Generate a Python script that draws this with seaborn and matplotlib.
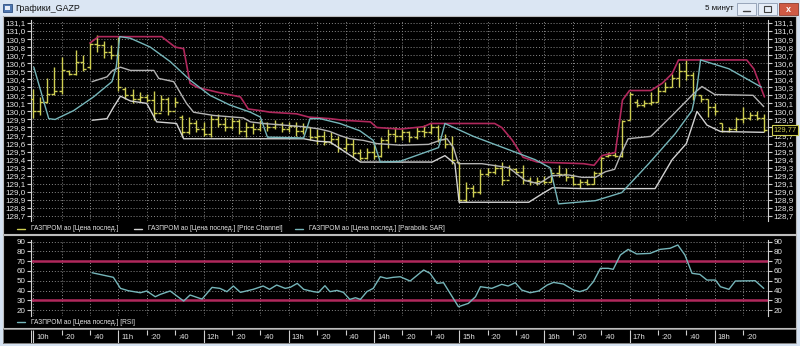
import matplotlib
matplotlib.use("Agg")
import matplotlib.pyplot as plt
import seaborn as sns
from matplotlib.patches import Rectangle
from matplotlib.lines import Line2D

sns.set_theme(style="dark")
FONT = ["Liberation Sans", "DejaVu Sans"]
plt.rcParams["font.family"] = FONT

# ---------------- data (5-minute bars, 10:00 .. 18:35) ----------------
bar_high = [130.28,130.18,130.42,130.55,130.68,130.52,130.76,130.70,130.86,130.95,
            130.87,130.82,130.93,130.30,130.28,130.24,130.22,130.26,130.20,130.18,
            130.18,129.95,129.93,129.89,129.87,129.95,129.97,129.93,129.93,129.91,
            129.87,129.85,129.89,129.87,129.89,129.87,129.87,129.87,129.85,129.80,
            129.78,129.76,129.74,129.70,129.68,129.66,129.53,129.55,129.62,129.68,
            129.78,129.80,129.78,129.76,129.80,129.83,129.85,129.83,129.72,129.70,
            129.37,129.12,129.08,129.28,129.30,129.35,129.37,129.33,129.30,129.33,
            129.18,129.18,129.20,129.28,129.33,129.30,129.22,129.16,129.16,129.26,
            129.45,129.49,129.49,129.89,130.24,130.16,130.14,130.24,130.30,130.37,
            130.47,130.60,130.64,130.49,130.20,130.16,130.10,129.85,129.80,129.93,
            130.05,129.99,130.01,129.97]
bar_low = [129.92,129.95,130.10,130.20,130.22,130.45,130.45,130.50,130.53,130.74,
           130.67,130.65,130.26,130.16,130.10,130.12,130.12,129.89,130.01,129.95,
           130.05,129.68,129.72,129.74,129.70,129.68,129.80,129.76,129.78,129.72,
           129.68,129.72,129.76,129.76,129.78,129.74,129.74,129.70,129.72,129.64,
           129.60,129.58,129.60,129.49,129.51,129.43,129.39,129.41,129.41,129.43,
           129.55,129.62,129.64,129.62,129.66,129.68,129.72,129.62,129.55,129.35,
           128.87,128.87,128.93,128.97,129.20,129.22,129.08,129.20,129.22,129.10,
           129.08,129.08,129.10,129.12,129.18,129.14,129.08,129.05,129.08,129.10,
           129.18,129.43,129.43,129.43,129.89,130.05,130.05,130.08,130.12,130.24,
           130.30,130.30,130.39,130.14,130.12,129.93,129.95,129.74,129.74,129.76,
           129.85,129.89,129.89,129.74]
bar_open = [130.15,130.00,130.12,130.22,130.25,130.50,130.47,130.62,130.55,130.84,
            130.82,130.74,130.70,130.28,130.20,130.15,130.18,130.14,129.98,130.15,
            130.00,129.93,129.75,129.85,129.78,129.72,129.90,129.84,129.80,129.88,
            129.76,129.80,129.78,129.85,129.80,129.84,129.78,129.82,129.76,129.80,
            129.68,129.70,129.62,129.66,129.55,129.60,129.48,129.42,129.50,129.45,
            129.64,129.72,129.70,129.74,129.68,129.76,129.74,129.80,129.66,129.60,
            129.37,128.90,129.05,129.00,129.22,129.25,129.30,129.15,129.28,129.25,
            129.15,129.12,129.14,129.12,129.24,129.22,129.18,129.10,129.12,129.10,
            129.24,129.44,129.46,129.45,129.89,130.12,130.08,130.10,130.12,130.25,
            130.30,130.42,130.50,130.45,130.20,130.15,130.05,129.85,129.76,129.78,
            129.90,129.92,129.95,129.92]
bar_close = [130.00,130.12,130.22,130.25,130.52,130.47,130.62,130.53,130.84,130.82,
             130.74,130.70,130.30,130.20,130.15,130.18,130.14,129.98,130.15,130.00,
             130.12,129.75,129.85,129.78,129.72,129.90,129.84,129.80,129.88,129.76,
             129.80,129.78,129.85,129.80,129.84,129.78,129.82,129.76,129.80,129.68,
             129.70,129.62,129.66,129.55,129.60,129.48,129.42,129.50,129.45,129.64,
             129.72,129.70,129.74,129.68,129.76,129.74,129.80,129.66,129.60,129.40,
             128.90,129.05,129.00,129.22,129.25,129.30,129.15,129.28,129.25,129.15,
             129.12,129.14,129.12,129.24,129.22,129.18,129.10,129.12,129.10,129.24,
             129.42,129.46,129.45,129.88,130.22,130.08,130.10,130.12,130.25,130.30,
             130.42,130.50,130.45,130.20,130.15,130.05,130.00,129.76,129.78,129.90,
             129.92,129.95,129.92,129.77]

# price channel upper (crimson)
chan_up_x = [8.0, 9.2, 18.1, 20.0, 21.2, 22.1, 23.1, 25.9, 29.2, 30.3,
             32.0, 33.4, 37.1, 38.8, 41.8, 43.7, 47.5, 48.4, 51.7, 55.0,
             56.0, 65.0, 66.0, 67.5, 69.0, 71.0, 77.5, 79.0, 80.1, 82.0,
             83.0, 84.0, 87.0, 88.6, 90.0, 90.9, 100.5, 101.5, 102.4, 103.0]
chan_up_y = [130.85, 130.93, 130.93, 130.80, 130.78, 130.35, 130.30, 130.24, 130.18, 130.03,
             130.01, 129.99, 129.97, 129.93, 129.91, 129.89, 129.87, 129.80, 129.78, 129.81,
             129.85, 129.85, 129.80, 129.64, 129.43, 129.37, 129.35, 129.33, 129.45, 129.49,
             130.14, 130.26, 130.26, 130.35, 130.47, 130.64, 130.64, 130.53, 130.32, 130.18]
# parabolic SAR (cyan)
sar_x = [0.1, 2.2, 3.1, 5.7, 8.5, 11.1, 11.7, 12.2, 13.7, 16.5,
         19.3, 22.1, 24.9, 27.7, 30.6, 32.0, 33.0, 38.1, 39.0, 40.4,
         43.2, 46.0, 47.9, 48.9, 51.7, 57.1, 58.0, 62.0, 67.4, 70.7,
         72.8, 74.0, 79.2, 82.9, 86.7, 90.4, 92.8, 93.5, 94.0, 98.0, 102.6]
sar_y = [130.55, 129.91, 129.90, 130.01, 130.18, 130.37, 130.55, 130.93, 130.91, 130.80,
         130.62, 130.39, 130.20, 130.08, 129.99, 129.93, 129.68, 129.67, 129.91, 129.91,
         129.85, 129.76, 129.64, 129.37, 129.38, 129.55, 129.85, 129.69, 129.51, 129.40,
         129.30, 128.85, 128.89, 128.99, 129.35, 129.72, 130.01, 130.30, 130.64, 130.53, 130.30]
# upper grey band
band_hi_x = [8.3, 10.4, 11.2, 12.3, 13.7, 17.0, 17.7, 19.8, 21.6, 22.6,
             25.4, 29.6, 30.6, 32.4, 38.1, 40.4, 41.8, 43.2, 44.6, 46.5,
             48.4, 51.7, 55.7, 57.3, 58.3, 59.2, 59.9, 63.2, 67.0, 69.3,
             71.2, 73.0, 75.4, 77.3, 79.2, 80.6, 81.9, 82.9, 83.8, 87.0,
             90.0, 93.0, 94.2, 96.0, 101.4, 102.9]
band_hi_y = [130.37, 130.43, 130.51, 130.55, 130.51, 130.51, 130.41, 130.37, 130.10, 129.99,
             129.95, 129.92, 129.87, 129.85, 129.81, 129.78, 129.75, 129.70, 129.66, 129.64,
             129.60, 129.58, 129.59, 129.64, 129.66, 129.55, 129.35, 129.35, 129.30, 129.14,
             129.10, 129.20, 129.21, 129.18, 129.18, 129.25, 129.28, 129.49, 129.66, 129.69,
             129.95, 130.22, 130.31, 130.21, 130.20, 130.06]
# lower grey / white channel line
band_lo_x = [8.3, 10.4, 11.3, 12.3, 13.7, 16.0, 17.4, 20.2, 21.2, 38.1,
             40.0, 41.8, 43.7, 46.1, 56.2, 58.0, 59.4, 60.0, 69.8, 71.6,
             73.1, 77.3, 87.6, 90.0, 92.0, 93.5, 94.9, 96.8, 102.9]
band_lo_y = [129.89, 129.91, 130.05, 130.19, 130.13, 130.10, 129.87, 129.85, 129.66, 129.66,
             129.63, 129.62, 129.51, 129.37, 129.37, 129.45, 129.35, 128.87, 128.87, 128.97,
             129.05, 129.04, 129.04, 129.40, 129.60, 130.00, 129.83, 129.75, 129.74]
# RSI
rsi_x = [8.3, 11.3, 12.3, 13.4, 15.1, 16.0, 17.2, 17.9, 19.3, 21.2,
         22.1, 23.5, 23.8, 25.2, 26.3, 27.3, 28.2, 29.2, 31.0, 32.4,
         33.3, 34.3, 35.5, 36.2, 37.2, 38.1, 39.5, 40.2, 41.1, 41.8,
         42.8, 43.7, 44.6, 45.4, 46.1, 47.0, 47.9, 48.9, 49.8, 50.7,
         51.7, 53.1, 55.0, 55.9, 56.9, 57.8, 59.9, 61.3, 62.3, 63.0,
         64.6, 66.0, 66.9, 67.9, 68.8, 70.0, 71.2, 72.4, 73.3, 74.7,
         76.1, 77.0, 78.0, 78.9, 79.9, 81.0, 81.7, 82.7, 83.8, 85.0,
         86.9, 88.3, 89.7, 90.8, 91.8, 92.8, 93.9, 94.9, 96.1, 96.8,
         98.0, 98.9, 101.7, 102.9]
rsi_v = [58.2, 53.5, 42.2, 39.8, 37.7, 39.5, 33.6, 36.0, 39.5, 29.2,
         35.4, 31.9, 31.3, 43.2, 42.2, 38.8, 44.6, 38.1, 41.2, 44.6,
         41.2, 45.6, 42.2, 43.2, 47.3, 41.2, 38.8, 38.1, 44.9, 38.8,
         40.1, 38.1, 30.9, 32.6, 30.9, 38.8, 42.2, 54.1, 52.4, 53.5,
         54.1, 49.7, 61.0, 57.6, 47.3, 48.0, 23.4, 26.8, 33.6, 43.9,
         42.2, 46.3, 44.6, 48.0, 40.5, 37.7, 39.5, 45.6, 48.3, 46.6,
         40.5, 38.8, 41.2, 49.0, 62.7, 62.7, 61.7, 76.3, 82.1, 77.4,
         78.0, 82.1, 83.2, 86.6, 76.3, 57.6, 56.5, 50.7, 50.7, 43.9,
         41.2, 49.7, 50.0, 42.2]
rsi_levels = [30, 70]

price_ticks = [128.7, 128.8, 128.9, 129.0, 129.1, 129.2, 129.3, 129.4, 129.5, 129.6,
               129.7, 129.8, 129.9, 130.0, 130.1, 130.2, 130.3, 130.4, 130.5, 130.6,
               130.7, 130.8, 130.9, 131.0, 131.1]
rsi_ticks = [20, 30, 40, 50, 60, 70, 80, 90]
time_labels = ["10h", ":20", ":40", "11h", ":20", ":40", "12h", ":20", ":40",
               "13h", ":20", ":40", "14h", ":20", ":40", "15h", ":20", ":40",
               "16h", ":20", ":40", "17h", ":20", ":40", "18h", ":20"]
last_price = "129,77"
last_price_value = 129.77

# ---------------- styling ----------------
YEL = "#cfcf52"
CRIM = "#b0285c"
CYAN = "#76b6ba"
GREY_HI = "#b4b4b4"
GREY_LO = "#d2d2d2"
TXT = "#e6e6e6"
GRID = "#8a8a8a"
AX_FS = 5.8
LEG_FS = 4.8

W, H = 800, 346
fig = plt.figure(figsize=(8, 3.46), dpi=100, facecolor="#d5e2f1")


def fr(x0, y0, x1, y1):
    return [x0 / W, 1 - y1 / H, (x1 - x0) / W, (y1 - y0) / H]


def rect(x0, y0, x1, y1, fc, ec="none", lw=0.0, z=0):
    fig.add_artist(Rectangle((x0 / W, 1 - y1 / H), (x1 - x0) / W, (y1 - y0) / H,
                             transform=fig.transFigure, facecolor=fc, edgecolor=ec,
                             linewidth=lw, zorder=z))


def fline(x0, x1, y0, y1, color, lw=1.0):
    fig.add_artist(Line2D([x0 / W, x1 / W], [1 - y0 / H, 1 - y1 / H], color=color,
                          lw=lw, transform=fig.transFigure))


def ftext(x, y, s, **kw):
    fig.text(x / W, 1 - y / H, s, **kw)


# window chrome
rect(0, 0, 800, 16, "#dbe6f3")
rect(3, 4, 12, 12, "#4f77b0", ec="#2f4f80", lw=0.6)
rect(5, 6, 10, 10, "#e8eef8")
ftext(15, 8.5, "Графики_GAZP", fontsize=6.4, color="#101010", va="center", ha="left")
ftext(705, 8.5, "5 минут", fontsize=5.8, color="#101010", va="center", ha="left")
rect(737, 3, 756, 15, "#e6edf7", ec="#8d9bb0", lw=0.6)
rect(758, 3, 777, 15, "#e6edf7", ec="#8d9bb0", lw=0.6)
rect(779, 3, 798, 15, "#cf5a44", ec="#8a3a2c", lw=0.6)
fline(743, 750, 11, 11, "#404040", 1.0)
rect(764, 6, 771, 12, "none", ec="#404040", lw=0.8)
ftext(788.5, 9, "x", fontsize=6.5, color="white", ha="center", va="center", weight="bold")

rect(3, 16, 796, 344, "black")
rect(3, 16, 796, 234, "none", ec="#bdbdbd", lw=0.8)
rect(3, 235, 796, 328, "none", ec="#bdbdbd", lw=0.8)
rect(3, 329, 796, 343, "none", ec="#9a9a9a", lw=0.6)

XLIM = (-0.3, 103.5)
idx = list(range(len(bar_high)))

# ---------------- main price panel ----------------
ax = fig.add_axes(fr(31, 20, 768, 221))
ax.set_facecolor("black")
ax.set_xlim(*XLIM)
ax.set_ylim(128.637, 131.137)

ax.vlines(idx, bar_low, bar_high, color=YEL, lw=1.0, zorder=3)
ax.hlines(bar_open, [i - 0.42 for i in idx], idx, color=YEL, lw=1.0, zorder=3)
ax.hlines(bar_close, idx, [i + 0.42 for i in idx], color=YEL, lw=1.0, zorder=3)

sns.lineplot(x=band_lo_x, y=band_lo_y, ax=ax, color=GREY_LO, lw=1.0, sort=False, estimator=None, zorder=4)
sns.lineplot(x=band_hi_x, y=band_hi_y, ax=ax, color=GREY_HI, lw=1.0, sort=False, estimator=None, zorder=4)
sns.lineplot(x=chan_up_x, y=chan_up_y, ax=ax, color=CRIM, lw=1.2, sort=False, estimator=None, zorder=4)
sns.lineplot(x=sar_x, y=sar_y, ax=ax, color=CYAN, lw=1.0, sort=False, estimator=None, zorder=5)

ax.set_yticks(price_ticks)
ax.set_yticklabels([f"{v:.1f}".replace(".", ",") for v in price_ticks])
ax.set_xticks(list(range(0, 104, 4)))
ax.set_xticklabels([])
ax.set_xlabel("")
ax.set_ylabel("")
ax.tick_params(axis="x", length=0)
ax.tick_params(axis="y", left=True, right=True, labelleft=True, labelright=True,
               length=3, width=0.8, color="#cfcfcf", labelcolor=TXT, labelsize=AX_FS, pad=1)
ax.grid(True, color=GRID, linestyle=(0, (1, 2)), linewidth=0.7)
for s in ("top", "bottom"):
    ax.spines[s].set_visible(False)
for s in ("left", "right"):
    ax.spines[s].set_color("#cfcfcf")
    ax.spines[s].set_linewidth(0.8)

# the last-price marker hides the right-hand label it sits on
for tv, tk in zip(price_ticks, ax.yaxis.get_major_ticks()):
    if abs(tv - last_price_value) < 0.05:
        tk.label2.set_visible(False)
ax.annotate(last_price, xy=(1.0, last_price_value), xycoords=("axes fraction", "data"),
            xytext=(4, 0), textcoords="offset points", fontsize=5.4, color=YEL,
            ha="left", va="center", annotation_clip=False,
            bbox=dict(boxstyle="square,pad=0.15", fc="black", ec=YEL, lw=0.8))

# main legend
LEG_Y = 229
fline(17, 25, LEG_Y, LEG_Y, YEL, 1.0)
ftext(31, LEG_Y, "ГАЗПРОМ ао [Цена послед.]", fontsize=LEG_FS, color=TXT, va="center")
fline(134, 142, LEG_Y, LEG_Y, GREY_LO, 1.0)
ftext(148, LEG_Y, "ГАЗПРОМ ао [Цена послед.] [Price Channel]", fontsize=LEG_FS, color=TXT, va="center")
fline(295, 303, LEG_Y, LEG_Y, CYAN, 1.0)
ftext(309, LEG_Y, "ГАЗПРОМ ао [Цена послед.] [Parabolic SAR]", fontsize=LEG_FS, color=TXT, va="center")

# ---------------- RSI panel ----------------
ar = fig.add_axes(fr(31, 240, 768, 316))
ar.set_facecolor("black")
ar.set_xlim(*XLIM)
ar.set_ylim(13.9, 91.7)
for lv in rsi_levels:
    ar.axhline(lv, color=CRIM, lw=1.8, zorder=2)
sns.lineplot(x=rsi_x, y=rsi_v, ax=ar, color=CYAN, lw=1.0, sort=False, estimator=None, zorder=3)
ar.set_yticks(rsi_ticks)
ar.set_yticklabels([str(v) for v in rsi_ticks])
ar.set_xticks(list(range(0, 104, 4)))
ar.set_xticklabels([])
ar.set_xlabel("")
ar.set_ylabel("")
ar.tick_params(axis="x", length=0)
ar.tick_params(axis="y", left=True, right=True, labelleft=True, labelright=True,
               length=3, width=0.8, color="#cfcfcf", labelcolor=TXT, labelsize=AX_FS, pad=1)
ar.grid(True, color=GRID, linestyle=(0, (1, 2)), linewidth=0.7)
for s in ("top", "bottom"):
    ar.spines[s].set_visible(False)
for s in ("left", "right"):
    ar.spines[s].set_color("#cfcfcf")
    ar.spines[s].set_linewidth(0.8)

RL = 322
fline(17, 25, RL, RL, CYAN, 1.0)
ftext(31, RL, "ГАЗПРОМ ао [Цена послед.] [RSI]", fontsize=LEG_FS, color=TXT, va="center")

# ---------------- time axis ----------------
at = fig.add_axes(fr(31, 330, 768, 343))
at.set_facecolor("black")
at.set_xlim(*XLIM)
at.set_ylim(0, 1)
at.axis("off")
for k, lab in enumerate(time_labels):
    xi = 4 * k
    if lab.endswith("h"):
        at.vlines(xi, 0.0, 1.0, color="#d0d0d0", lw=0.8)
    else:
        at.vlines(xi, 0.65, 1.0, color="#d0d0d0", lw=0.8)
    at.text(xi + 0.45, 0.45, lab, fontsize=5.5, color=TXT, ha="left", va="center")
at.vlines(-0.25, 0.0, 1.0, color="#d0d0d0", lw=0.8)

fig.savefig("out.png", dpi=100, facecolor=fig.get_facecolor())
